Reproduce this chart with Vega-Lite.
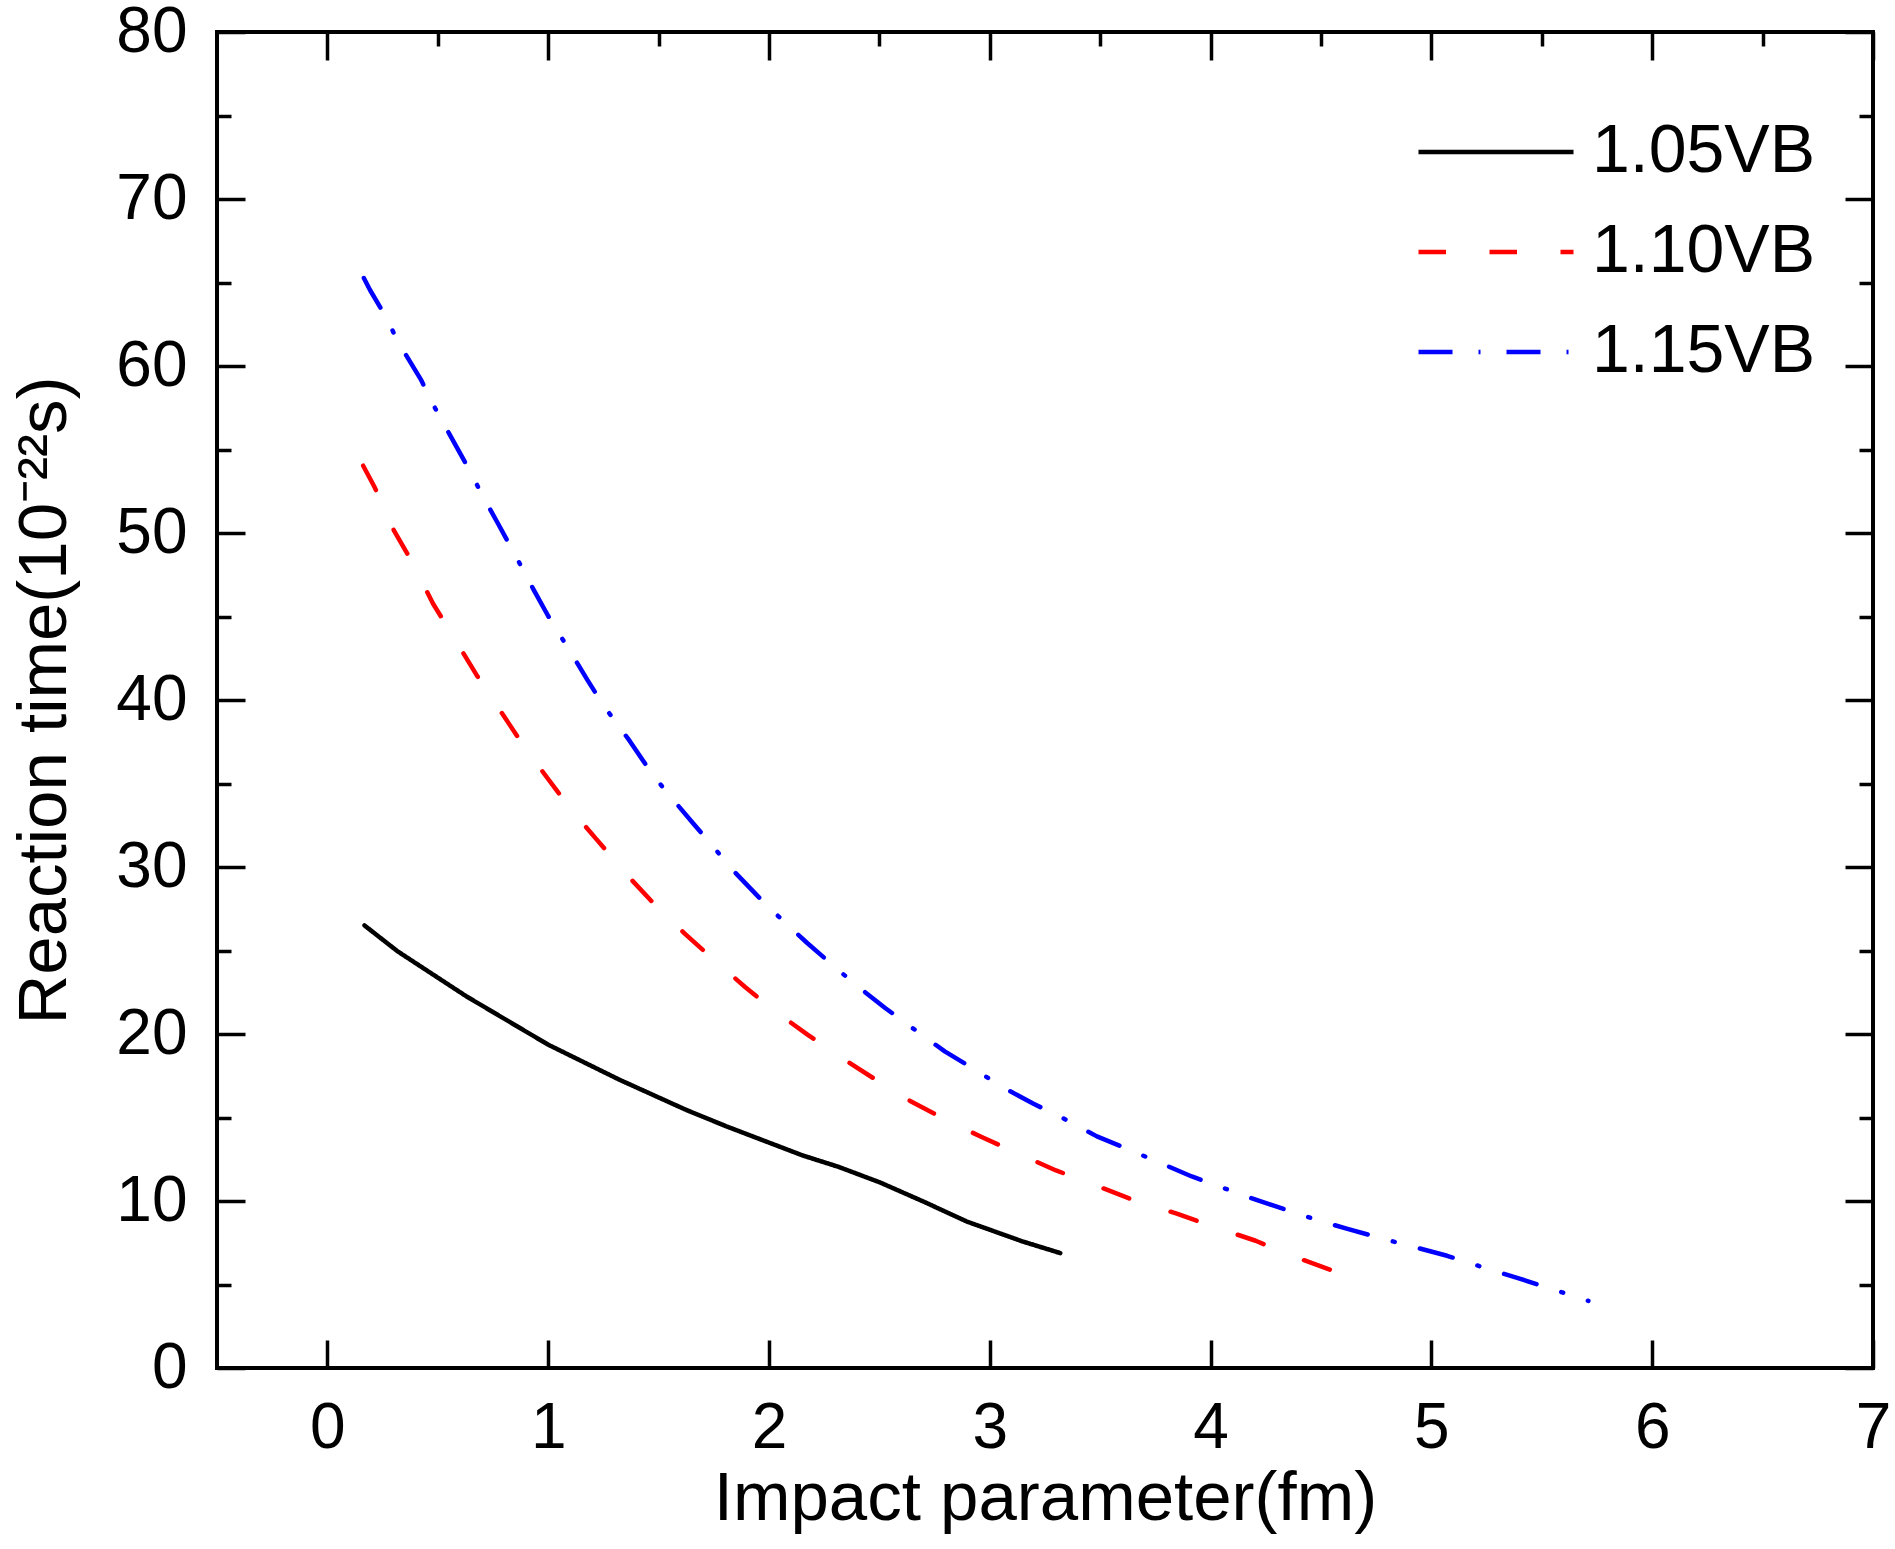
{
  "$schema": "https://vega.github.io/schema/vega-lite/v6.json",
  "width": 1656,
  "height": 1336,
  "autosize": "none",
  "padding": {"left": 217, "top": 32, "right": 22, "bottom": 181},
  "background": "white",
  "config": {
    "view": {"stroke": "black", "strokeWidth": 4},
    "font": "Liberation Sans",
    "axis": {
      "domain": false,
      "grid": false,
      "tickColor": "black",
      "tickWidth": 3.5,
      "labelFont": "Liberation Sans",
      "labelFontSize": 64,
      "labelColor": "black",
      "titleFont": "Liberation Sans",
      "titleFontSize": 69,
      "titleFontWeight": "normal",
      "titleColor": "black"
    }
  },
  "data": {"values": [
    {"b": 0.168, "t": 26.5, "s": "1.05VB"},
    {"b": 0.318, "t": 24.95, "s": "1.05VB"},
    {"b": 0.63, "t": 22.25, "s": "1.05VB"},
    {"b": 1.0, "t": 19.36, "s": "1.05VB"},
    {"b": 1.323, "t": 17.26, "s": "1.05VB"},
    {"b": 1.624, "t": 15.46, "s": "1.05VB"},
    {"b": 1.809, "t": 14.46, "s": "1.05VB"},
    {"b": 2.156, "t": 12.71, "s": "1.05VB"},
    {"b": 2.318, "t": 12.03, "s": "1.05VB"},
    {"b": 2.503, "t": 11.11, "s": "1.05VB"},
    {"b": 2.699, "t": 9.97, "s": "1.05VB"},
    {"b": 2.896, "t": 8.77, "s": "1.05VB"},
    {"b": 3.15, "t": 7.57, "s": "1.05VB"},
    {"b": 3.319, "t": 6.88, "s": "1.05VB"},

    {"b": 0.162, "t": 54.03, "s": "1.10VB"},
    {"b": 0.214, "t": 52.74, "s": "1.10VB"},
    {"b": 0.301, "t": 50.16, "s": "1.10VB"},
    {"b": 0.382, "t": 48.3, "s": "1.10VB"},
    {"b": 0.478, "t": 45.78, "s": "1.10VB"},
    {"b": 0.565, "t": 43.91, "s": "1.10VB"},
    {"b": 0.674, "t": 41.53, "s": "1.10VB"},
    {"b": 0.766, "t": 39.7, "s": "1.10VB"},
    {"b": 0.883, "t": 37.37, "s": "1.10VB"},
    {"b": 0.981, "t": 35.6, "s": "1.10VB"},
    {"b": 1.108, "t": 33.37, "s": "1.10VB"},
    {"b": 1.218, "t": 31.67, "s": "1.10VB"},
    {"b": 1.357, "t": 29.52, "s": "1.10VB"},
    {"b": 1.469, "t": 27.94, "s": "1.10VB"},
    {"b": 1.617, "t": 26.03, "s": "1.10VB"},
    {"b": 1.737, "t": 24.6, "s": "1.10VB"},
    {"b": 1.893, "t": 22.8, "s": "1.10VB"},
    {"b": 2.013, "t": 21.5, "s": "1.10VB"},
    {"b": 2.179, "t": 19.92, "s": "1.10VB"},
    {"b": 2.318, "t": 18.66, "s": "1.10VB"},
    {"b": 2.491, "t": 17.2, "s": "1.10VB"},
    {"b": 2.63, "t": 16.06, "s": "1.10VB"},
    {"b": 2.815, "t": 14.76, "s": "1.10VB"},
    {"b": 2.963, "t": 13.83, "s": "1.10VB"},
    {"b": 3.153, "t": 12.69, "s": "1.10VB"},
    {"b": 3.3, "t": 11.83, "s": "1.10VB"},
    {"b": 3.496, "t": 10.85, "s": "1.10VB"},
    {"b": 3.647, "t": 10.07, "s": "1.10VB"},
    {"b": 3.85, "t": 9.23, "s": "1.10VB"},
    {"b": 3.998, "t": 8.53, "s": "1.10VB"},
    {"b": 4.204, "t": 7.62, "s": "1.10VB"},
    {"b": 4.355, "t": 6.78, "s": "1.10VB"},
    {"b": 4.551, "t": 5.84, "s": "1.10VB"},
    {"b": 4.707, "t": 5.08, "s": "1.10VB"},

    {"b": 0.165, "t": 65.27, "s": "1.15VB"},
    {"b": 0.193, "t": 64.55, "s": "1.15VB"},
    {"b": 0.263, "t": 62.98, "s": "1.15VB"},
    {"b": 0.322, "t": 61.4, "s": "1.15VB"},
    {"b": 0.423, "t": 59.2, "s": "1.15VB"},
    {"b": 0.488, "t": 57.47, "s": "1.15VB"},
    {"b": 0.549, "t": 56.01, "s": "1.15VB"},
    {"b": 0.645, "t": 53.72, "s": "1.15VB"},
    {"b": 0.709, "t": 52.08, "s": "1.15VB"},
    {"b": 0.775, "t": 50.51, "s": "1.15VB"},
    {"b": 0.869, "t": 48.22, "s": "1.15VB"},
    {"b": 0.935, "t": 46.58, "s": "1.15VB"},
    {"b": 1.0, "t": 45.03, "s": "1.15VB"},
    {"b": 1.103, "t": 42.83, "s": "1.15VB"},
    {"b": 1.178, "t": 41.19, "s": "1.15VB"},
    {"b": 1.249, "t": 39.7, "s": "1.15VB"},
    {"b": 1.369, "t": 37.55, "s": "1.15VB"},
    {"b": 1.447, "t": 36.03, "s": "1.15VB"},
    {"b": 1.525, "t": 34.66, "s": "1.15VB"},
    {"b": 1.658, "t": 32.59, "s": "1.15VB"},
    {"b": 1.751, "t": 31.16, "s": "1.15VB"},
    {"b": 1.832, "t": 29.87, "s": "1.15VB"},
    {"b": 1.975, "t": 27.9, "s": "1.15VB"},
    {"b": 2.075, "t": 26.64, "s": "1.15VB"},
    {"b": 2.173, "t": 25.45, "s": "1.15VB"},
    {"b": 2.319, "t": 23.77, "s": "1.15VB"},
    {"b": 2.431, "t": 22.55, "s": "1.15VB"},
    {"b": 2.526, "t": 21.56, "s": "1.15VB"},
    {"b": 2.681, "t": 20.06, "s": "1.15VB"},
    {"b": 2.796, "t": 18.96, "s": "1.15VB"},
    {"b": 2.908, "t": 18.06, "s": "1.15VB"},
    {"b": 3.073, "t": 16.71, "s": "1.15VB"},
    {"b": 3.198, "t": 15.82, "s": "1.15VB"},
    {"b": 3.314, "t": 15.08, "s": "1.15VB"},
    {"b": 3.485, "t": 13.87, "s": "1.15VB"},
    {"b": 3.614, "t": 13.17, "s": "1.15VB"},
    {"b": 3.738, "t": 12.47, "s": "1.15VB"},
    {"b": 3.915, "t": 11.47, "s": "1.15VB"},
    {"b": 4.048, "t": 10.83, "s": "1.15VB"},
    {"b": 4.171, "t": 10.23, "s": "1.15VB"},
    {"b": 4.356, "t": 9.41, "s": "1.15VB"},
    {"b": 4.49, "t": 8.83, "s": "1.15VB"},
    {"b": 4.62, "t": 8.33, "s": "1.15VB"},
    {"b": 4.811, "t": 7.63, "s": "1.15VB"},
    {"b": 4.941, "t": 7.18, "s": "1.15VB"},
    {"b": 5.071, "t": 6.72, "s": "1.15VB"},
    {"b": 5.26, "t": 5.92, "s": "1.15VB"},
    {"b": 5.392, "t": 5.38, "s": "1.15VB"},
    {"b": 5.52, "t": 4.84, "s": "1.15VB"},
    {"b": 5.711, "t": 4.02, "s": "1.15VB"}
  ]},
  "layer": [
    {
      "mark": {"type": "line", "strokeWidth": 4.5, "strokeCap": "round", "strokeJoin": "round"},
      "encoding": {
        "x": {
          "field": "b", "type": "quantitative",
          "scale": {"domain": [-0.5, 7], "nice": false, "zero": false},
          "axis": {
            "orient": "bottom",
            "title": "Impact parameter(fm)",
            "values": [0, 0.5, 1, 1.5, 2, 2.5, 3, 3.5, 4, 4.5, 5, 5.5, 6, 6.5, 7],
            "format": "d",
            "labelExpr": "datum.value % 1 === 0 ? datum.label : ''",
            "tickSize": {"condition": {"test": "datum.value % 1 !== 0", "value": -14}, "value": -28},
            "labelPadding": 56,
            "titlePadding": 4,
            "labelFlush": false,
            "labelOverlap": false
          }
        },
        "y": {
          "field": "t", "type": "quantitative",
          "scale": {"domain": [0, 80], "nice": false},
          "axis": {
            "orient": "left",
            "title": "Reaction time(10⁻²²s)",
            "values": [0, 5, 10, 15, 20, 25, 30, 35, 40, 45, 50, 55, 60, 65, 70, 75, 80],
            "format": "d",
            "labelExpr": "datum.value % 10 === 0 ? datum.label : ''",
            "tickSize": {"condition": {"test": "datum.value % 10 !== 0", "value": -14}, "value": -28},
            "labelPadding": 58,
            "titlePadding": 36,
            "labelFlush": false,
            "labelOverlap": false
          }
        },
        "color": {
          "field": "s", "type": "nominal",
          "scale": {"domain": ["1.05VB", "1.10VB", "1.15VB"], "range": ["#000000", "#FF0000", "#0000FF"]},
          "legend": {
            "orient": "none",
            "legendX": 1199,
            "legendY": 85,
            "title": null,
            "symbolType": "stroke",
            "symbolSize": 24025,
            "symbolStrokeWidth": 4.5,
            "labelFont": "Liberation Sans",
            "labelFontSize": 68,
            "labelColor": "black",
            "labelLimit": 500,
            "labelOffset": 16,
            "rowPadding": 30,
            "clipHeight": 70
          }
        },
        "strokeDash": {
          "field": "s", "type": "nominal",
          "scale": {"domain": ["1.05VB", "1.10VB", "1.15VB"], "range": [[1, 0], [27.5, 43.5], [34, 26, 2, 26]]},
          "legend": {
            "orient": "none",
            "legendX": 1199,
            "legendY": 85,
            "title": null,
            "symbolType": "stroke",
            "symbolSize": 24025,
            "symbolStrokeWidth": 4.5,
            "labelFont": "Liberation Sans",
            "labelFontSize": 68,
            "labelColor": "black",
            "labelLimit": 500,
            "labelOffset": 16,
            "rowPadding": 30,
            "clipHeight": 70
          }
        }
      }
    },
    {
      "mark": {"type": "line", "opacity": 0},
      "encoding": {
        "x": {
          "field": "b", "type": "quantitative",
          "scale": {"domain": [-0.5, 7], "nice": false, "zero": false},
          "axis": {
            "orient": "top",
            "title": null,
            "labels": false,
            "values": [0, 0.5, 1, 1.5, 2, 2.5, 3, 3.5, 4, 4.5, 5, 5.5, 6, 6.5, 7],
            "tickSize": {"condition": {"test": "datum.value % 1 !== 0", "value": -14}, "value": -28}
          }
        },
        "y": {
          "field": "t", "type": "quantitative",
          "scale": {"domain": [0, 80], "nice": false},
          "axis": {
            "orient": "right",
            "title": null,
            "labels": false,
            "values": [0, 5, 10, 15, 20, 25, 30, 35, 40, 45, 50, 55, 60, 65, 70, 75, 80],
            "tickSize": {"condition": {"test": "datum.value % 10 !== 0", "value": -14}, "value": -28}
          }
        },
        "detail": {"field": "s", "type": "nominal"}
      }
    }
  ],
  "resolve": {"axis": {"x": "independent", "y": "independent"}}
}
